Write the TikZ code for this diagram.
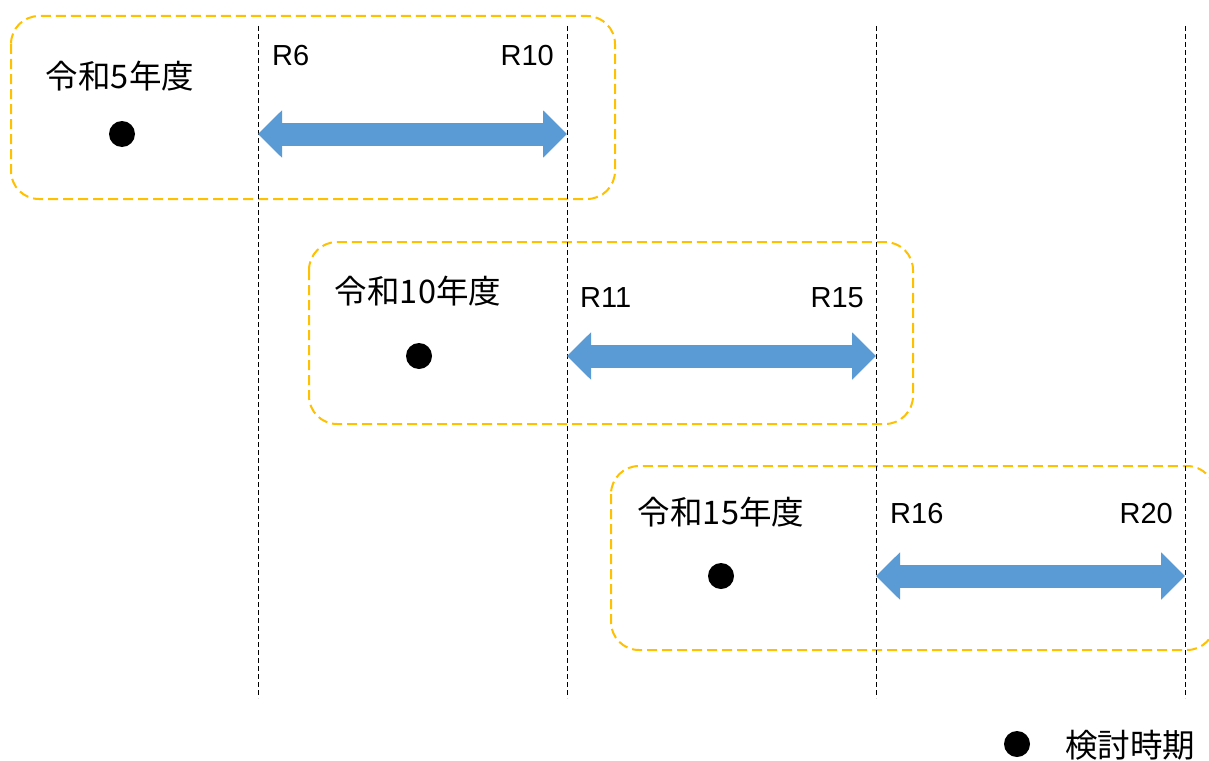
\documentclass[tikz,border=0pt]{standalone}
\usepackage{fontspec}
\setmainfont{Liberation Sans}
\newfontfamily\jp{Noto Sans CJK JP}
\usetikzlibrary{arrows.meta}
\definecolor{boxorange}{HTML}{FFC000}
\definecolor{arrowblue}{HTML}{5B9BD5}
\tikzset{
  vline/.style={draw=black, line width=0.8pt, dash pattern=on 5pt off 3pt},
  tbox/.style={draw=boxorange, line width=2pt, dash pattern=on 10pt off 5pt, rounded corners=28pt},
  barrow/.style={draw=arrowblue, line width=23pt, {Triangle[length=24pt,width=46pt]}-{Triangle[length=24pt,width=46pt]}},
  dot/.style={circle, fill=black, minimum size=26pt, inner sep=0pt},
  jplabel/.style={inner sep=0pt, font=\jp\fontsize{32.5}{37}\selectfont},
  rlabel/.style={inner sep=0pt, font=\fontsize{29}{34}\selectfont}
}
\begin{document}
\begin{tikzpicture}[x=1pt, y=-1pt]
\useasboundingbox (0,0) rectangle (1209,760);
\clip (0,0) rectangle (1209,760);
\fill[white] (0,0) rectangle (1209,760);
% year boxes
\draw[tbox] (11,16) rectangle (615,199);
\draw[tbox] (309,242) rectangle (913,424);
\draw[tbox] (611,466) rectangle (1215,650);
% vertical lines
\foreach \i/\x in {1/258,2/567,3/876,4/1185}{
  \coordinate (t\i) at (\x,26);
  \coordinate (b\i) at (\x,698);
}
\draw[vline] (t1) -- (b1);
\draw[vline] (t2) -- (b2);
\draw[vline] (t3) -- (b3);
\draw[vline] (t4) -- (b4);
% arrow ends
\coordinate (a1l) at (258,134); \coordinate (a1r) at (567,134);
\coordinate (a2l) at (567,356); \coordinate (a2r) at (876,356);
\coordinate (a3l) at (876,576); \coordinate (a3r) at (1185,576);
\draw[barrow] (a1l) -- (a1r);
\draw[barrow] (a2l) -- (a2r);
\draw[barrow] (a3l) -- (a3r);
% labels
\node[jplabel] (y1) at (120,76) {令和5年度};
\node[jplabel] (y2) at (418,291) {令和10年度};
\node[jplabel] (y3) at (721,512) {令和15年度};
\node[dot] (d1) at (122,134) {};
\node[dot] (d2) at (419,356) {};
\node[dot] (d3) at (721,576) {};
\node[rlabel, anchor=west] (r6) at (272,56) {R6};
\node[rlabel, anchor=east] (r10) at (554,56) {R10};
\node[rlabel, anchor=west] (r11) at (580,298) {R11};
\node[rlabel, anchor=east] (r15) at (864,298) {R15};
\node[rlabel, anchor=west] (r16) at (890,514) {R16};
\node[rlabel, anchor=east] (r20) at (1173,514) {R20};
% legend
\node[dot] (ld) at (1017,744) {};
\node[jplabel, anchor=west] (lt) at (1065,745) {検討時期};
\end{tikzpicture}
\end{document}
